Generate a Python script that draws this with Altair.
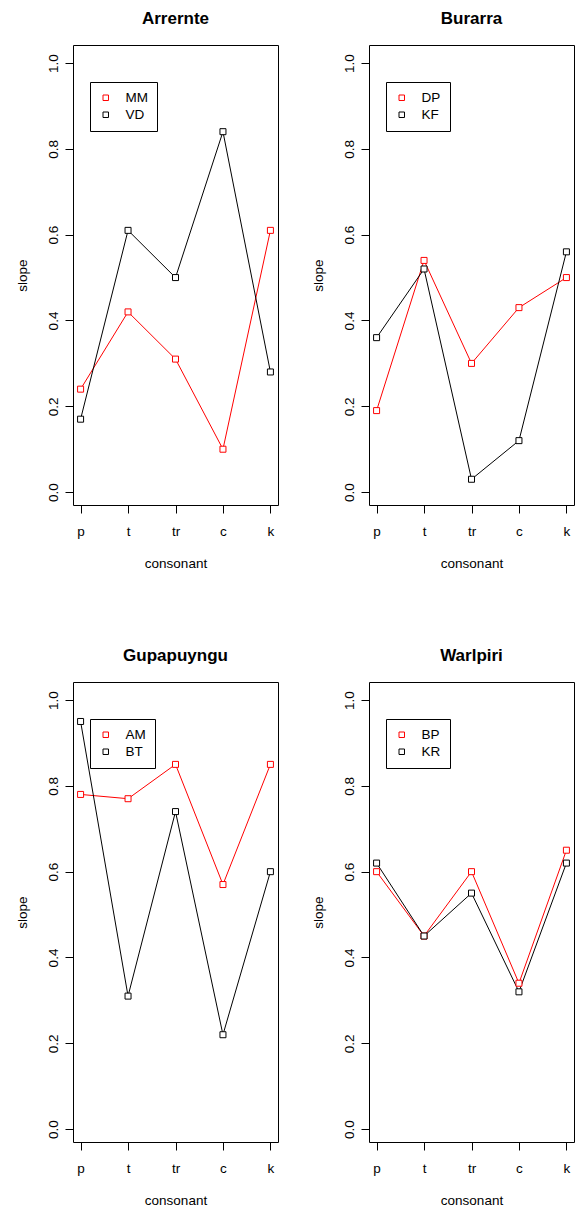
import altair as alt
import pandas as pd

consonants = ["p", "t", "tr", "c", "k"]

languages = ["Arrernte", "Burarra", "Gupapuyngu", "Warlpiri"]
speaker_names = [["MM", "VD"], ["DP", "KF"], ["AM", "BT"], ["BP", "KR"]]

arrernte_mm = [0.24, 0.42, 0.31, 0.10, 0.61]
arrernte_vd = [0.17, 0.61, 0.50, 0.84, 0.28]
burarra_dp = [0.19, 0.54, 0.30, 0.43, 0.50]
burarra_kf = [0.36, 0.52, 0.03, 0.12, 0.56]
gupapuyngu_am = [0.78, 0.77, 0.85, 0.57, 0.85]
gupapuyngu_bt = [0.95, 0.31, 0.74, 0.22, 0.60]
warlpiri_bp = [0.60, 0.45, 0.60, 0.34, 0.65]
warlpiri_kr = [0.62, 0.45, 0.55, 0.32, 0.62]

series = [
    (arrernte_mm, arrernte_vd),
    (burarra_dp, burarra_kf),
    (gupapuyngu_am, gupapuyngu_bt),
    (warlpiri_bp, warlpiri_kr),
]

y_ticks = [0.0, 0.2, 0.4, 0.6, 0.8, 1.0]
colors = ["#ff0000", "#000000"]

FONT = "Liberation Sans"
W, H = 205, 460


def panel(lang, names, red_vals, black_vals):
    df = pd.DataFrame({
        "consonant": consonants * 2,
        "speaker": [names[0]] * 5 + [names[1]] * 5,
        "slope": list(red_vals) + list(black_vals),
        "idx": list(range(5)) * 2,
    })
    x = alt.X(
        "consonant:N",
        sort=consonants,
        scale=alt.Scale(type="point", padding=0.16),
        axis=alt.Axis(
            title="consonant", labelAngle=0, domain=False, grid=False,
            tickSize=8, tickColor="black", tickWidth=1,
            labelFont=FONT, labelFontSize=13.5, labelColor="black",
            labelBaseline="alphabetic", labelPadding=22.5,
            titleFont=FONT, titleFontSize=13.5, titleFontWeight="normal",
            titleColor="black", titleX=W / 2, titleY=62,
            titleAlign="center", titleBaseline="alphabetic",
        ),
    )
    y = alt.Y(
        "slope:Q",
        scale=alt.Scale(domain=[-0.03, 1.042], nice=False, zero=False),
        axis=alt.Axis(
            title="slope", values=y_ticks, format=".1f", domain=False, grid=False,
            tickSize=8, tickColor="black", tickWidth=1,
            labelFont=FONT, labelFontSize=13.5, labelColor="black",
            labelAngle=270, labelAlign="center", labelBaseline="alphabetic",
            labelPadding=8,
            titleFont=FONT, titleFontSize=13.5, titleFontWeight="normal",
            titleColor="black", titleAngle=270, titleX=-47, titleY=H / 2,
            titleAlign="center", titleBaseline="alphabetic",
        ),
    )
    legend = alt.Legend(
        title=None, orient="none", legendX=17, legendY=37,
        padding=9, rowPadding=2, symbolType="square", symbolSize=30,
        symbolStrokeWidth=1, symbolFillColor="white",
        labelFont=FONT, labelFontSize=13.5, labelColor="black",
        labelOffset=13, strokeColor="black", fillColor="white",
    )
    color = alt.Color("speaker:N", scale=alt.Scale(domain=names, range=colors), legend=legend)
    lines = alt.Chart(df).mark_line(strokeWidth=1).encode(
        x=x, y=y, color=color, order="idx:Q",
    )
    points = alt.Chart(df).mark_point(
        shape="square", filled=False, fill="white", size=36, strokeWidth=1, opacity=1
    ).encode(x=x, y=y, color=color)
    return alt.layer(lines, points).properties(
        width=W, height=H,
        title=alt.TitleParams(
            text=lang, font=FONT, fontSize=17, fontWeight="bold", color="black",
            anchor="middle", frame="group", baseline="alphabetic", offset=4,
        ),
    )


panels = [panel(l, n, s[0], s[1]) for l, n, s in zip(languages, speaker_names, series)]

chart = alt.concat(
    *panels, columns=2, spacing={"row": 177, "column": 91}, bounds="flush"
).resolve_scale(
    color="independent"
).properties(
    padding={"left": 6, "top": 1, "right": 0, "bottom": 0}
).configure_view(
    stroke="black", strokeWidth=1
)

chart.save("out.html", embed_options={"renderer": "svg", "actions": False})
